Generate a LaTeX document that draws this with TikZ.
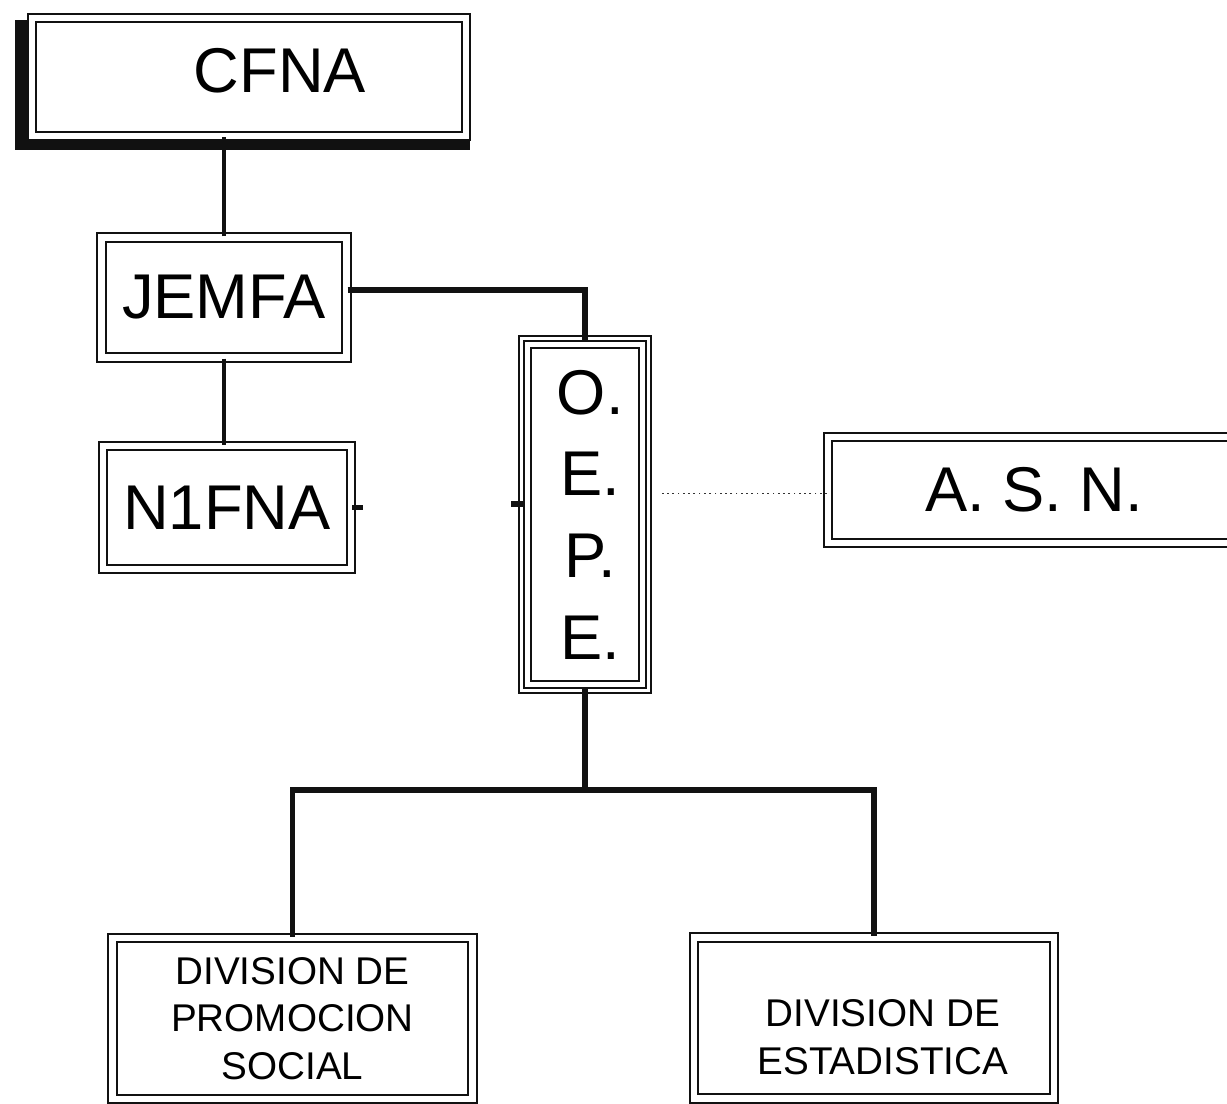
\documentclass[tikz,border=0pt]{standalone}
\usepackage{fontspec}
\setmainfont{Liberation Sans}
\usepackage{xcolor}
\usepackage{tikz}
\definecolor{inkc}{HTML}{111111}
\definecolor{dotc}{HTML}{333333}
\newcommand{\bigfnt}{\fontsize{36}{46.5}\selectfont}
\newcommand{\smlfnt}{\fontsize{22}{27}\selectfont}
\tikzset{
  box/.style={draw=inkc,line width=1.2pt,double,double distance=3.8pt,fill=white,inner sep=0pt,align=center,font=\bigfnt},
  ln/.style={inkc,line width=1.9pt},
  thk/.style={inkc,line width=3.4pt},
  dotln/.style={dotc,line width=1pt,dotted},
  stub/.style={inkc,line width=3pt}
}
\begin{document}
\begin{tikzpicture}[x=0.02cm,y=-0.02cm]
\clip (0,0) rectangle (1227,1104);
\fill[inkc] (15,20) rectangle (470,150);
\node[box,minimum width=8.68cm,minimum height=2.36cm,
  label={[font=\bigfnt,xshift=17.6pt,yshift=3.4pt]center:CFNA}] (cfna) at (249,77) {};
\node[box,minimum width=4.9cm,minimum height=2.4cm] (jemfa) at (224,297.5) {JEMFA};
\node[box,minimum width=4.96cm,minimum height=2.46cm] (n1fna) at (227,507.5) {N1FNA};
\node[box,double distance=5.5pt,minimum width=2.4cm,minimum height=6.9cm] (oepe) at (585,514.5) {\hspace*{6pt}O.\\\hspace*{6pt}E.\\\hspace*{6pt}P.\\\hspace*{6pt}E.};
\draw[inkc,line width=0.9pt] (oepe.north west) rectangle (oepe.south east);
\node[box,minimum width=8.24cm,minimum height=2.12cm] (asn) at (1034,490) {A. S. N.};
\node[box,font=\smlfnt,minimum width=7.2cm,minimum height=3.22cm] (divpro) at (292.5,1018.5) {DIVISION DE\\PROMOCION\\SOCIAL};
\node[box,minimum width=7.2cm,minimum height=3.23cm,
  label={[font=\smlfnt,align=center,xshift=5pt,yshift=-11pt]center:DIVISION DE\\ESTADISTICA}] (divest) at (874,1018) {};
% connectors
\draw[ln] (jemfa.north) -- (jemfa.north |- cfna.south);
\draw[ln] (jemfa.south) -- (jemfa.south |- n1fna.north);
\draw[thk] ([yshift=4pt]jemfa.east) -| (oepe.north);
\coordinate (bus) at ([yshift=-58pt]oepe.south);
\draw[thk] (oepe.south) -- (bus);
\draw[thk] (divpro.north) |- (bus) -| (divest.north);
\draw[dotln] ([yshift=-2pt]asn.west) -- ([xshift=9pt,yshift=-2pt]asn.west -| oepe.east);
\draw[stub] (n1fna.east) -- ++(11,0);
\draw[stub] ([yshift=6pt]oepe.west) -- ++(-13,0);
\end{tikzpicture}
\end{document}
